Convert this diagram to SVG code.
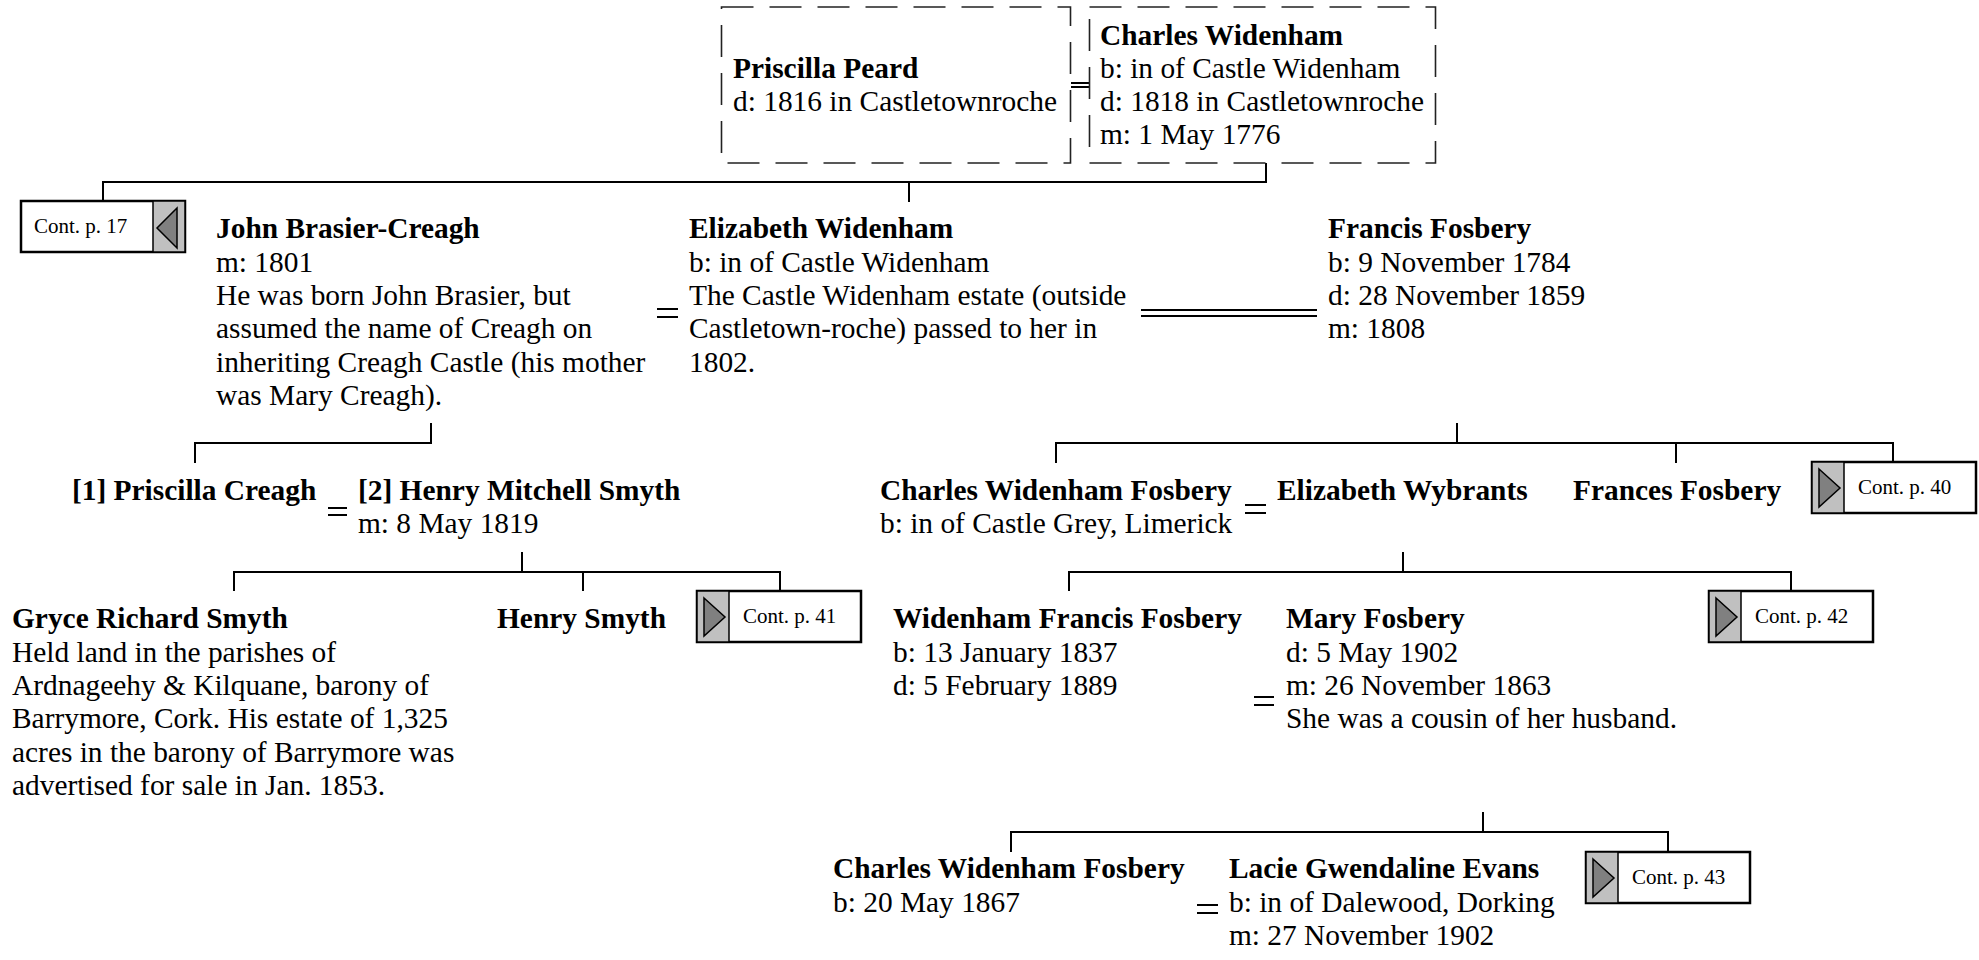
<svg xmlns="http://www.w3.org/2000/svg" width="1979" height="960" viewBox="0 0 1979 960">
<style>
text{font-family:"Liberation Serif","Times New Roman",serif;font-size:29.4px;fill:#000}
.b{font-weight:bold}
.ct{font-size:21px}
.ln{stroke:#000;stroke-width:2;fill:none}
.dash{fill:#fff;stroke:#222;stroke-width:1.6;stroke-dasharray:32 16}
.cb{fill:#fff;stroke:#000;stroke-width:2.5}
.cg{fill:#c0c0c0;stroke:#000;stroke-width:1.5}
.tri{fill:#808080;stroke:#000;stroke-width:1.5;stroke-linejoin:miter}
</style>
<rect width="1979" height="960" fill="#fff"/>
<g id="connectors">
<line class="ln" x1="1071" y1="83" x2="1089" y2="83"/>
<line class="ln" x1="1071" y1="87" x2="1089" y2="87"/>
<polyline class="ln" points="1266,163 1266,182 103,182 103,201"/>
<line class="ln" x1="909" y1="182" x2="909" y2="202"/>
<line class="ln" x1="657" y1="309" x2="678" y2="309"/>
<line class="ln" x1="657" y1="317" x2="678" y2="317"/>
<line class="ln" x1="1141" y1="310" x2="1317" y2="310"/>
<line class="ln" x1="1141" y1="316" x2="1317" y2="316"/>
<polyline class="ln" points="431,423 431,443 195,443 195,463"/>
<line class="ln" x1="1457" y1="423" x2="1457" y2="443"/>
<polyline class="ln" points="1056,463 1056,443 1893,443 1893,462"/>
<line class="ln" x1="1676" y1="443" x2="1676" y2="463"/>
<line class="ln" x1="328" y1="508" x2="347" y2="508"/>
<line class="ln" x1="328" y1="515" x2="347" y2="515"/>
<line class="ln" x1="1245" y1="505" x2="1266" y2="505"/>
<line class="ln" x1="1245" y1="513" x2="1266" y2="513"/>
<line class="ln" x1="522" y1="552" x2="522" y2="572"/>
<polyline class="ln" points="234,591 234,572 780,572 780,591"/>
<line class="ln" x1="583" y1="572" x2="583" y2="591"/>
<line class="ln" x1="1403" y1="552" x2="1403" y2="572"/>
<polyline class="ln" points="1069,591 1069,572 1791,572 1791,591"/>
<line class="ln" x1="1254" y1="697" x2="1274" y2="697"/>
<line class="ln" x1="1254" y1="705" x2="1274" y2="705"/>
<line class="ln" x1="1483" y1="812" x2="1483" y2="832"/>
<polyline class="ln" points="1011,852 1011,832 1668,832 1668,852"/>
<line class="ln" x1="1197" y1="905" x2="1218" y2="905"/>
<line class="ln" x1="1197" y1="913" x2="1218" y2="913"/>
</g>
<g id="priscilla-peard">
<rect class="dash" x="721.5" y="7" width="349" height="156"/>
<text x="733" y="78" class="b">Priscilla Peard</text>
<text x="733" y="111">d: 1816 in Castletownroche</text>
</g>
<g id="charles-widenham">
<rect class="dash" x="1089.5" y="7" width="346" height="156"/>
<text x="1100" y="45" class="b">Charles Widenham</text>
<text x="1100" y="78">b: in of Castle Widenham</text>
<text x="1100" y="111">d: 1818 in Castletownroche</text>
<text x="1100" y="144">m: 1 May 1776</text>
</g>
<g id="cont17">
<rect class="cb" x="21" y="201" width="164" height="51"/>
<rect class="cg" x="153" y="201" width="32" height="51"/>
<polygon class="tri" points="177,208 157,228 177,248"/>
<text x="34" y="233" class="ct">Cont. p. 17</text>
</g>
<g id="john-brasier-creagh">
<text x="216" y="238" class="b">John Brasier-Creagh</text>
<text x="216" y="272">m: 1801</text>
<text x="216" y="305">He was born John Brasier, but</text>
<text x="216" y="338">assumed the name of Creagh on</text>
<text x="216" y="372">inheriting Creagh Castle (his mother</text>
<text x="216" y="405">was Mary Creagh).</text>
</g>
<g id="elizabeth-widenham">
<text x="689" y="238" class="b">Elizabeth Widenham</text>
<text x="689" y="272">b: in of Castle Widenham</text>
<text x="689" y="305">The Castle Widenham estate (outside</text>
<text x="689" y="338">Castletown-roche) passed to her in</text>
<text x="689" y="372">1802.</text>
</g>
<g id="francis-fosbery">
<text x="1328" y="238" class="b">Francis Fosbery</text>
<text x="1328" y="272">b: 9 November 1784</text>
<text x="1328" y="305">d: 28 November 1859</text>
<text x="1328" y="338">m: 1808</text>
</g>
<g id="priscilla-creagh">
<text x="72" y="500" class="b">[1] Priscilla Creagh</text>
</g>
<g id="henry-mitchell-smyth">
<text x="358" y="500" class="b">[2] Henry Mitchell Smyth</text>
<text x="358" y="533">m: 8 May 1819</text>
</g>
<g id="charles-widenham-fosbery">
<text x="880" y="500" class="b">Charles Widenham Fosbery</text>
<text x="880" y="533">b: in of Castle Grey, Limerick</text>
</g>
<g id="elizabeth-wybrants">
<text x="1277" y="500" class="b">Elizabeth Wybrants</text>
</g>
<g id="frances-fosbery">
<text x="1573" y="500" class="b">Frances Fosbery</text>
</g>
<g id="cont40">
<rect class="cb" x="1812" y="462" width="164" height="51"/>
<rect class="cg" x="1812" y="462" width="32" height="51"/>
<polygon class="tri" points="1819,469 1840,488 1819,507"/>
<text x="1858" y="494" class="ct">Cont. p. 40</text>
</g>
<g id="gryce-richard-smyth">
<text x="12" y="628" class="b">Gryce Richard Smyth</text>
<text x="12" y="662">Held land in the parishes of</text>
<text x="12" y="695">Ardnageehy &amp; Kilquane, barony of</text>
<text x="12" y="728">Barrymore, Cork. His estate of 1,325</text>
<text x="12" y="762">acres in the barony of Barrymore was</text>
<text x="12" y="795">advertised for sale in Jan. 1853.</text>
</g>
<g id="henry-smyth">
<text x="497" y="628" class="b">Henry Smyth</text>
</g>
<g id="cont41">
<rect class="cb" x="697" y="591" width="164" height="51"/>
<rect class="cg" x="697" y="591" width="32" height="51"/>
<polygon class="tri" points="704,598 725,617 704,636"/>
<text x="743" y="623" class="ct">Cont. p. 41</text>
</g>
<g id="widenham-francis-fosbery">
<text x="893" y="628" class="b">Widenham Francis Fosbery</text>
<text x="893" y="662">b: 13 January 1837</text>
<text x="893" y="695">d: 5 February 1889</text>
</g>
<g id="mary-fosbery">
<text x="1286" y="628" class="b">Mary Fosbery</text>
<text x="1286" y="662">d: 5 May 1902</text>
<text x="1286" y="695">m: 26 November 1863</text>
<text x="1286" y="728">She was a cousin of her husband.</text>
</g>
<g id="cont42">
<rect class="cb" x="1709" y="591" width="164" height="51"/>
<rect class="cg" x="1709" y="591" width="32" height="51"/>
<polygon class="tri" points="1716,598 1737,617 1716,636"/>
<text x="1755" y="623" class="ct">Cont. p. 42</text>
</g>
<g id="charles-widenham-fosbery-2">
<text x="833" y="878" class="b">Charles Widenham Fosbery</text>
<text x="833" y="912">b: 20 May 1867</text>
</g>
<g id="lacie-gwendaline-evans">
<text x="1229" y="878" class="b">Lacie Gwendaline Evans</text>
<text x="1229" y="912">b: in of Dalewood, Dorking</text>
<text x="1229" y="945">m: 27 November 1902</text>
</g>
<g id="cont43">
<rect class="cb" x="1586" y="852" width="164" height="51"/>
<rect class="cg" x="1586" y="852" width="32" height="51"/>
<polygon class="tri" points="1593,859 1614,878 1593,897"/>
<text x="1632" y="884" class="ct">Cont. p. 43</text>
</g>
</svg>
